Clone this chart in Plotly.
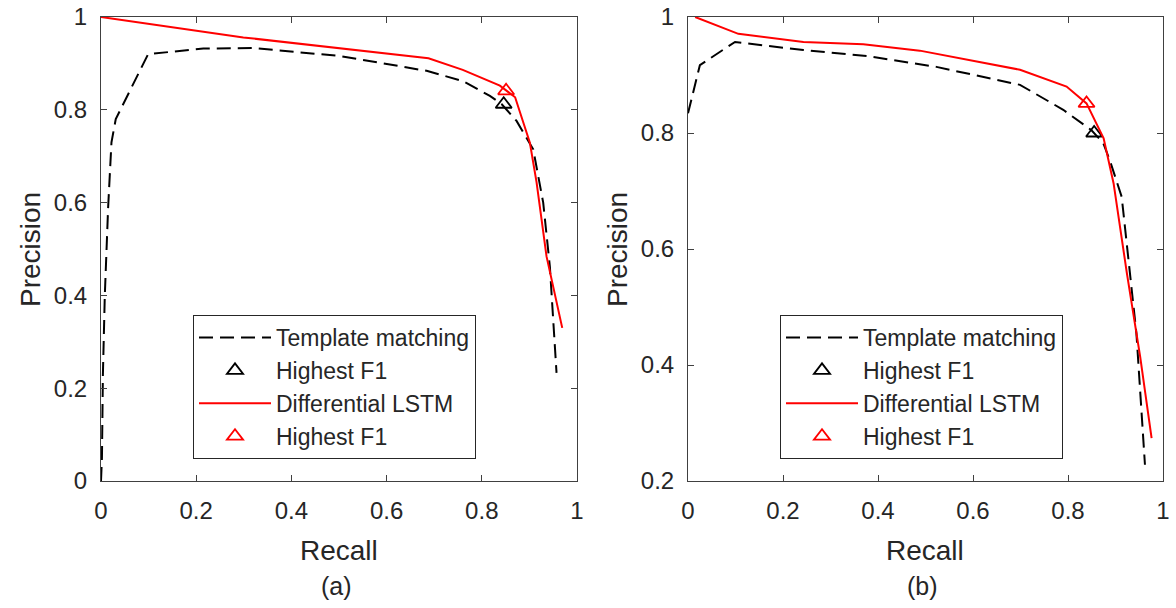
import plotly.graph_objects as go

# ---------------- data: panel (a) ----------------
a_tm_recall = [0.0, 0.002, 0.004, 0.008, 0.015, 0.022, 0.031, 0.099, 0.215, 0.32, 0.502, 0.684, 0.76, 0.817, 0.842, 0.873, 0.908, 0.929, 0.943, 0.957]
a_tm_precision = [0.0, 0.05, 0.23, 0.40, 0.59, 0.73, 0.78, 0.92, 0.932, 0.933, 0.916, 0.884, 0.862, 0.83, 0.812, 0.776, 0.715, 0.60, 0.462, 0.233]
a_tm_best = (0.846, 0.812)

a_lstm_recall = [0.0, 0.299, 0.688, 0.76, 0.838, 0.870, 0.901, 0.915, 0.936, 0.969]
a_lstm_precision = [1.0, 0.956, 0.911, 0.886, 0.852, 0.827, 0.729, 0.644, 0.484, 0.33]
a_lstm_best = (0.851, 0.841)

# ---------------- data: panel (b) ----------------
b_tm_recall = [0.0, 0.025, 0.099, 0.243, 0.383, 0.523, 0.699, 0.790, 0.849, 0.874, 0.888, 0.913, 0.944, 0.962]
b_tm_precision = [0.834, 0.917, 0.957, 0.943, 0.932, 0.914, 0.883, 0.840, 0.805, 0.783, 0.753, 0.69, 0.455, 0.228]
b_tm_best = (0.855, 0.80)

b_lstm_recall = [0.015, 0.106, 0.243, 0.369, 0.488, 0.699, 0.797, 0.839, 0.875, 0.896, 0.924, 0.952, 0.976]
b_lstm_precision = [1.0, 0.971, 0.957, 0.953, 0.942, 0.909, 0.880, 0.851, 0.791, 0.713, 0.558, 0.414, 0.274]
b_lstm_best = (0.839, 0.851)

names = ["Template matching", "Highest F1", "Differential LSTM", "Highest F1"]
x_ticks = [0, 0.2, 0.4, 0.6, 0.8, 1]
y_ticks_a = [0, 0.2, 0.4, 0.6, 0.8, 1]
y_ticks_b = [0.2, 0.4, 0.6, 0.8, 1]

FONT = "Liberation Sans, Arial, sans-serif"
AX = "#262626"
W, H = 1176, 608
# plot-area edges in page pixels (page body margin removed below)
L_PAGE, R_PAGE, T_PAGE, B_PAGE = 101, 1163, 17, 481
ML, MT = L_PAGE, T_PAGE
MR = W - R_PAGE
MB = H - B_PAGE
PW = W - ML - MR
PH = H - MT - MB


def px(xp):
    return (xp - L_PAGE) / PW


def py(yp):
    return (B_PAGE - yp) / PH


fig = go.Figure()


def add_panel(xa, ya, leg, tm_x, tm_y, tm_b, ls_x, ls_y, ls_b):
    fig.add_trace(go.Scatter(x=tm_x, y=tm_y, mode="lines", name=names[0],
                             line=dict(color="black", width=2, dash="14px,7px"),
                             xaxis=xa, yaxis=ya, legend=leg, legendgroup=leg + "1"))
    fig.add_trace(go.Scatter(x=[tm_b[0]], y=[tm_b[1]], mode="markers", name=names[1],
                             marker=dict(symbol="triangle-up-open", size=14, color="black",
                                         line=dict(width=1.8, color="black")),
                             xaxis=xa, yaxis=ya, legend=leg, legendgroup=leg + "2"))
    fig.add_trace(go.Scatter(x=ls_x, y=ls_y, mode="lines", name=names[2],
                             line=dict(color="#ff0000", width=2),
                             xaxis=xa, yaxis=ya, legend=leg, legendgroup=leg + "3"))
    fig.add_trace(go.Scatter(x=[ls_b[0]], y=[ls_b[1]], mode="markers", name=names[3],
                             marker=dict(symbol="triangle-up-open", size=14, color="#ff0000",
                                         line=dict(width=1.8, color="#ff0000")),
                             xaxis=xa, yaxis=ya, legend=leg, legendgroup=leg + "4"))


add_panel("x", "y", "legend", a_tm_recall, a_tm_precision, a_tm_best,
          a_lstm_recall, a_lstm_precision, a_lstm_best)
add_panel("x2", "y2", "legend2", b_tm_recall, b_tm_precision, b_tm_best,
          b_lstm_recall, b_lstm_precision, b_lstm_best)

axis_common = dict(showline=True, linecolor="#404040", linewidth=1, mirror="ticks",
                   ticks="inside", ticklen=6, tickcolor="#404040", showgrid=False,
                   zeroline=False, automargin=False, ticklabeloverflow="allow",
                   tickfont=dict(family=FONT, size=24, color=AX))
xaxis_common = dict(ticklabelstandoff=8, **axis_common)
yaxis_common = dict(ticklabelstandoff=8, **axis_common)

legend_common = dict(bgcolor="white", bordercolor="#262626", borderwidth=1,
                     font=dict(family=FONT, size=23, color=AX), tracegroupgap=0,
                     itemwidth=72, xanchor="left", yanchor="top")

fig.update_layout(
    template="none",
    width=W, height=H,
    margin=dict(l=ML, r=MR, t=MT, b=MB, autoexpand=False),
    paper_bgcolor="white", plot_bgcolor="white",
    showlegend=True,
    xaxis=dict(domain=[0, px(577)], range=[0, 1], tickvals=x_ticks, anchor="y", **xaxis_common),
    yaxis=dict(domain=[0, 1], range=[0, 1], tickvals=y_ticks_a, anchor="x", **yaxis_common),
    xaxis2=dict(domain=[px(688), 1], range=[0, 1], tickvals=x_ticks, anchor="y2", **xaxis_common),
    yaxis2=dict(domain=[0, 1], range=[0.2, 1], tickvals=y_ticks_b, anchor="x2", **yaxis_common),
    legend=dict(x=px(193), y=py(315), **legend_common),
    legend2=dict(x=px(780), y=py(315), **legend_common),
)

ann_font = dict(family=FONT, size=28, color=AX)
for xc, label in [(339, "(a)"), (925, "(b)")]:
    fig.add_annotation(text="Recall", x=px(xc), y=py(550), xref="paper", yref="paper",
                       showarrow=False, font=ann_font, xanchor="center", yanchor="middle")
    fig.add_annotation(text=label, x=px(xc - 3), y=py(586), xref="paper", yref="paper",
                       showarrow=False, font=dict(family=FONT, size=25, color=AX),
                       xanchor="center", yanchor="middle")
for xc in [30, 617]:
    fig.add_annotation(text="Precision", x=px(xc), y=py(250), xref="paper", yref="paper",
                       showarrow=False, font=ann_font, textangle=-90,
                       xanchor="center", yanchor="middle")

fig.write_html("out.html", config={"displayModeBar": False},
               post_script="document.body.style.margin='0';document.body.style.overflow='hidden';")
